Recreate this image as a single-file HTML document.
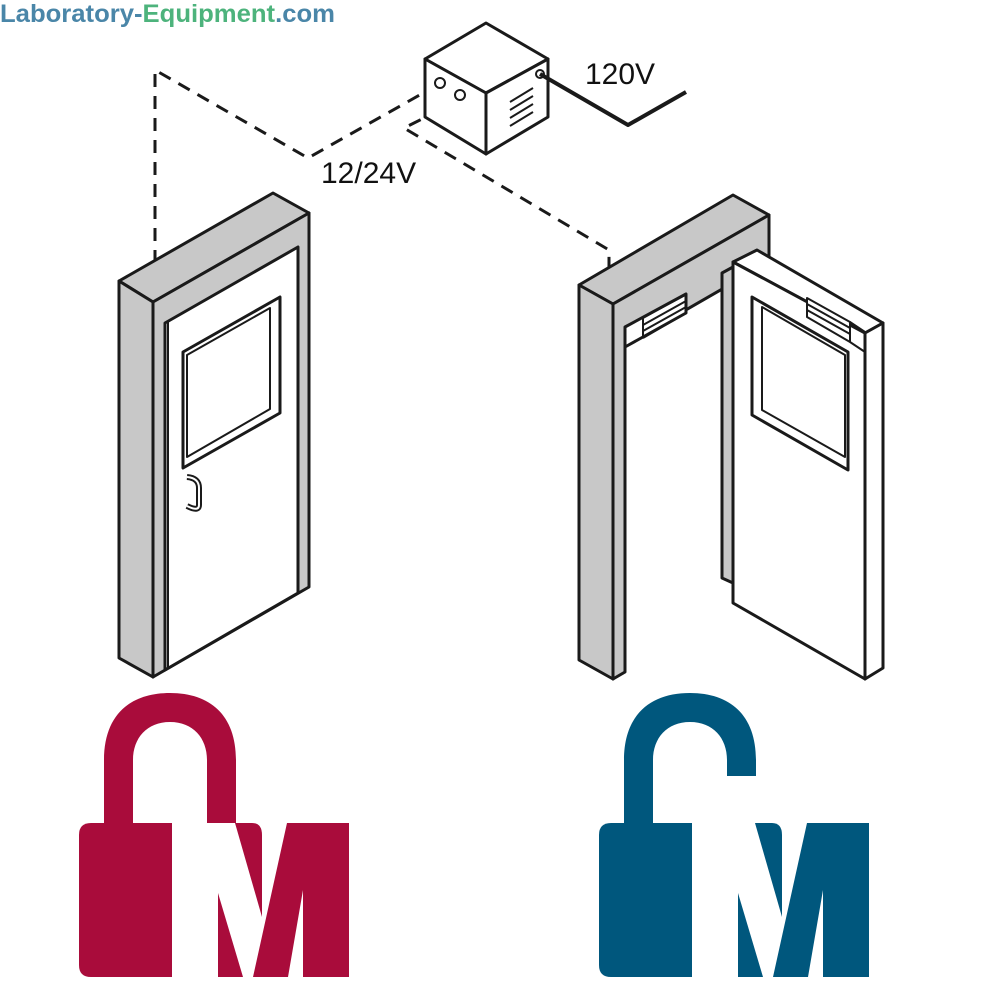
<!DOCTYPE html>
<html><head><meta charset="utf-8"><style>
html,body{margin:0;padding:0;background:#fff;}
svg{display:block;}
</style></head><body>
<svg width="1000" height="1000" viewBox="0 0 1000 1000" xmlns="http://www.w3.org/2000/svg">
<text x="0" y="22" font-family="Liberation Sans, sans-serif" font-size="25" font-weight="bold" fill="#4a86a8" textLength="335" lengthAdjust="spacingAndGlyphs">Laboratory-<tspan fill="#4db37c">Equipment</tspan>.com</text>

<g fill="none" stroke="#1a1a1a" stroke-width="3" stroke-dasharray="13,9">
<path d="M155,285 V70 L308,158 L425,92"/>
<path d="M460,100 L404,128 L609,250 V300"/>
</g>

<!-- transformer box -->
<g stroke="#1a1a1a" stroke-width="3" stroke-linejoin="round">
<path d="M486,23 L548,59 L486,93 L425,59 Z" fill="#fff"/>
<path d="M425,59 L486,93 L486,154 L425,117 Z" fill="#fff"/>
<path d="M486,93 L548,59 L548,117 L486,154 Z" fill="#fff"/>
<circle cx="440" cy="83" r="5" fill="none" stroke-width="2"/>
<circle cx="460" cy="95" r="5" fill="none" stroke-width="2"/>
<circle cx="540" cy="74" r="4" fill="none" stroke-width="2"/>
<g stroke-width="2"><path d="M510,102 L533,88 M510,110 L533,96 M510,118 L533,104 M510,126 L533,112"/></g>
<path d="M540,74 L628,125 L686,92" fill="none" stroke-width="4"/>
</g>
<text x="585" y="84" font-family="Liberation Sans, sans-serif" font-size="30" fill="#111">120V</text>
<text x="321" y="183" font-family="Liberation Sans, sans-serif" font-size="30" fill="#111">12/24V</text>

<!-- left door -->
<g stroke="#1a1a1a" stroke-width="3" stroke-linejoin="round">
<path d="M119,281 L273,193 L309,213 L153,302 Z" fill="#c8c8c8"/>
<path d="M119,281 L153,302 L153,677 L119,658 Z" fill="#c8c8c8"/>
<path d="M153,302 L309,213 L309,587 L153,677 Z" fill="#c8c8c8"/>
<path d="M165,323 L298,247 L298,593 L165,670 Z" fill="#fff"/>
<path d="M168,321 V669" fill="none" stroke-width="2"/>
<path d="M183,352 L280,297 L280,413 L183,468 Z" fill="#fff"/>
<path d="M187,355 L270,308 L270,409 L187,457 Z" fill="#fff" stroke-width="2"/>
<path d="M187,477 Q199,478 199,488 V505 Q199,512 187,506" fill="none" stroke-width="6"/>
<path d="M187,477 Q199,478 199,488 V505 Q199,512 187,506" fill="none" stroke="#fff" stroke-width="2"/>
</g>

<!-- right door -->
<g stroke="#1a1a1a" stroke-width="3" stroke-linejoin="round">
<path d="M579,285 L733,195 L769,215 L613,304 Z" fill="#c8c8c8"/>
<path d="M579,285 L613,304 L613,679 L579,660 Z" fill="#c8c8c8"/>
<path d="M613,304 L769,215 L769,262 L625,345 L625,672 L613,679 Z" fill="#c8c8c8"/>
<path d="M625,327 L686,294 L686,313 L625,347 Z" fill="#fff"/>
<path d="M643,318 V338 M643,318 L686,294 M643,325 L686,301 M643,331 L686,307 M643,338 L686,313" fill="none" stroke-width="2"/>
<path d="M722,273 L733,267 L733,583 L722,578 Z" fill="#c8c8c8"/>
<path d="M733,262 L757,250 L883,323 L865,333 Z" fill="#fff"/>
<path d="M733,262 L865,333 L865,679 L733,603 Z" fill="#fff"/>
<path d="M865,333 L883,323 L883,668 L865,679 Z" fill="#fff"/>
<path d="M752,297 L848,352 L848,470 L752,415 Z" fill="#fff"/>
<path d="M762,307 L845,355 L845,457 L762,410 Z" fill="#fff" stroke-width="2"/>
<path d="M807,298 L850,322 L850,342 L807,317 Z" fill="#fff" stroke-width="2"/>
<path d="M807,304 L850,328 M807,310 L850,334" fill="none" stroke-width="2"/>
<path d="M850,322 L865,332 M850,342 L865,352" fill="none" stroke-width="2"/>
</g>

<!-- locks -->
<g fill="#a90c3b">
<path d="M104,823 V760 C104,715 130,693 170,693 C210,693 236,715 236,760 V823 H207 V760 C207,738 193,722 170,722 C147,722 133,738 133,760 V823 Z"/>
<path d="M91,823 H172 V977 H91 Q79,977 79,965 V835 Q79,823 91,823 Z"/>
<path d="M207,823 H236 V823 Z"/>
<path d="M235,823 L252,823 Q262,823 262,835 L262,917 Z"/>
<path d="M218,893 L218,977 L243,977 Z"/>
<path d="M287,823 L349,823 L349,977 L303,977 L303,890 L288,977 L253,977 Z"/>
</g>
<g fill="#00577d" transform="translate(520,0)">
<path d="M104,823 V760 C104,715 130,693 170,693 C210,693 236,715 236,760 V776 H207 V760 C207,738 193,722 170,722 C147,722 133,738 133,760 V823 Z"/>
<path d="M91,823 H172 V977 H91 Q79,977 79,965 V835 Q79,823 91,823 Z"/>
<path d="M235,823 L252,823 Q262,823 262,835 L262,917 Z"/>
<path d="M218,893 L218,977 L243,977 Z"/>
<path d="M287,823 L349,823 L349,977 L303,977 L303,890 L288,977 L253,977 Z"/>
</g>
</svg>
</body></html>
